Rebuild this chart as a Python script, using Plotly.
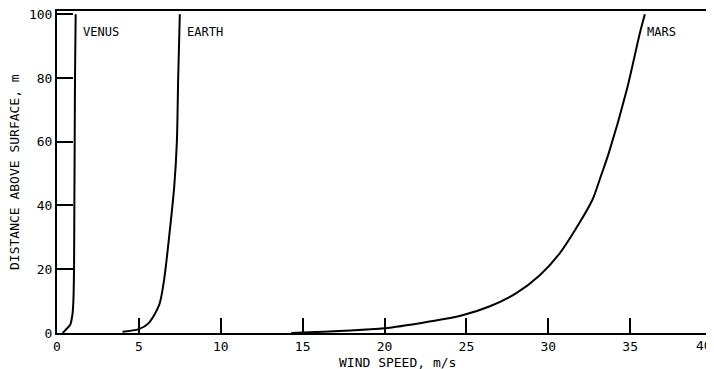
import plotly.graph_objects as go

# Wind speed (m/s) vs distance above surface (m)
venus_x = [0.35, 0.53, 0.80, 0.94, 1.00, 1.04, 1.06, 1.08, 1.10, 1.14]
venus_y = [0.0, 1.0, 2.5, 5.7, 10.0, 20.0, 40.0, 60.0, 80.0, 100.0]

earth_x = [4.0, 5.0, 5.6, 6.24, 6.54, 6.85, 7.16, 7.32, 7.40, 7.50]
earth_y = [0.4, 1.2, 3.1, 8.8, 16.7, 30.3, 46.0, 60.0, 80.0, 100.0]

mars_x = [14.3, 20.0, 22.75, 24.65, 26.4, 28.05, 29.5, 30.7, 31.9, 32.7, 33.2, 33.7, 34.8, 35.6, 35.9]
mars_y = [0.0, 1.5, 3.6, 5.4, 8.3, 12.5, 18.2, 25.0, 34.5, 41.8, 49.0, 56.5, 76.4, 94.2, 100.0]

curve_labels = ["VENUS", "EARTH", "MARS"]
label_x = [1.45, 7.8, 35.9]
label_y = [94.3, 94.3, 94.3]

x_ticks = [0, 5, 10, 15, 20, 25, 30, 35, 40]
x_tick_labels = ["0", "5", "10", "15", "20", "25", "30", "35", "40"]
y_ticks = [0, 20, 40, 60, 80, 100]

FONT = "DejaVu Sans Mono"

fig = go.Figure()
for xs, ys in [(venus_x, venus_y), (earth_x, earth_y), (mars_x, mars_y)]:
    fig.add_trace(go.Scatter(x=xs, y=ys, mode="lines",
                             line=dict(color="black", width=2, shape="spline", smoothing=0.8),
                             showlegend=False, hoverinfo="skip"))

for t, lx, ly in zip(curve_labels, label_x, label_y):
    fig.add_annotation(x=lx, y=ly, text=t, showarrow=False, xanchor="left", yanchor="middle",
                       font=dict(family=FONT, size=12, color="black"))

# last x tick label sits at the page edge: draw it right-aligned so it stays visible
shown_labels = x_tick_labels[:-1] + [""]
fig.add_annotation(x=x_ticks[-1], y=0, yref="paper", text=x_tick_labels[-1], showarrow=False,
                   xanchor="right", xshift=2, yanchor="top", yshift=-3,
                   font=dict(family=FONT, size=13, color="black"))

fig.add_annotation(x=0.52, y=0, xref="paper", yref="paper", yshift=-29, yanchor="middle",
                   text="WIND SPEED, m/s", showarrow=False,
                   font=dict(family=FONT, size=13, color="black"))
fig.add_annotation(x=0, y=0.5, xref="paper", yref="paper", xshift=-43, xanchor="center",
                   text="DISTANCE ABOVE SURFACE, m", showarrow=False, textangle=-90,
                   font=dict(family=FONT, size=13, color="black"))

fig.update_xaxes(range=[0, 40], tickvals=x_ticks, ticktext=shown_labels, ticks="inside",
                 ticklen=15, tickwidth=2,
                 tickcolor="black", showline=True, linecolor="black", linewidth=2, mirror=True,
                 showgrid=False, zeroline=False, automargin=False, ticklabeloverflow="allow",
                 tickfont=dict(family=FONT, size=13, color="black"))
fig.update_yaxes(range=[0, 101], tickvals=y_ticks, ticks="inside", ticklen=16, tickwidth=2,
                 tickcolor="black", showline=True, linecolor="black", linewidth=2, mirror=True,
                 showgrid=False, zeroline=False, automargin=False, ticklabeloverflow="allow",
                 tickfont=dict(family=FONT, size=13, color="black"))

# page body has an 8px margin, so the figure is sized/positioned to compensate
fig.update_layout(width=706, height=361, plot_bgcolor="white", paper_bgcolor="white",
                  margin=dict(l=49, r=2, t=3, b=36), showlegend=False)

fig.write_html("out.html")
